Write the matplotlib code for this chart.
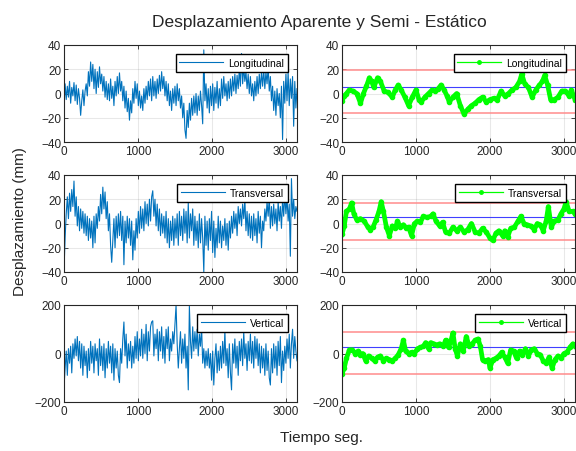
import numpy as np
import matplotlib
matplotlib.use("Agg")
import matplotlib.pyplot as plt
from matplotlib.lines import Line2D

plt.rcParams['font.family'] = ['Liberation Sans', 'DejaVu Sans']

# -----------------------------
# Raw signals (sampled every 15 s)
# -----------------------------
step_raw = 15
long_raw = [
    -12, 8, -5, 6, -3, 10, -8, 5, -2, 9,
    -6, 7, -9, 4, -4, -18, -6, 3, -10, 2,
    8, -2, 18, 6, 26, 10, 24, 4, 20, 0,
    18, 5, 22, 8, 16, 2, 14, -3, 10, -5,
    8, -6, 12, -4, 6, -10, 10, -2, 14, 0,
    17, 2, 10, -6, 6, -12, 2, -15, -4, -22,
    -6, -16, 4, -8, 10, -4, 8, -10, 2, -12,
    -2, -14, 4, -8, 6, -5, 10, -2, 12, -6,
    14, -2, 10, -4, 12, 0, 15, 2, 18, 4,
    14, -2, 10, -6, 8, -10, 2, -14, 4, -8,
    6, -10, 8, -6, 4, -12, -2, -20, -8, -30,
    -37, -14, -28, -8, -22, -4, -18, -2, -16, 0,
    -18, -2, -14, 2, -10, -25, 36, -6, 8, -12,
    4, -16, 6, -10, 8, -14, 5, -8, 10, -12,
    4, -10, 12, -4, 14, -2, 8, -6, 10, -4,
    12, -2, 14, 2, 16, 0, 15, 4, 20, 6,
    33, 8, 22, 10, 18, 4, 16, 0, 14, -2,
    8, -6, 10, -2, 14, 0, 16, 4, 18, 6,
    20, 4, 18, 8, 22, 2, 14, -6, 6, -14,
    2, -18, 4, -10, 0, -20, 6, -38, 10, -8,
    16, -6, 18, -10, 12, -4, 14, -27, 10, -12,
    4,
]
trans_raw = [
    -38, -12, 8, 22, 4, 25, 10, 28, 14, 35,
    6, 22, -2, 14, -6, 12, -4, 10, -8, 8,
    -10, 6, -14, 4, -12, 2, -20, 6, -16, 8,
    -4, 14, 2, 24, 8, 30, 12, 26, 4, 18,
    -6, 8, -18, -32, -14, 4, -20, 6, -12, 8,
    -10, 10, -14, 6, -34, 2, -16, 6, -12, 4,
    -18, 2, -30, -6, -22, 4, -12, 10, -8, 14,
    -4, 12, -6, 18, 0, 16, -2, 20, 2, 22,
    27, 6, 20, -2, 16, -6, 12, -10, 8, -8,
    6, -12, 10, -16, 4, -20, 2, -14, 6, -18,
    4, -12, 8, -18, 10, -10, 6, -14, 12, -8,
    10, -16, 17, -12, 8, -6, 12, -18, 6, -14,
    2, -20, 8, -16, 4, -12, -40, 6, -18, 2,
    -22, 4, -14, 10, -24, 2, -28, -4, -20, 6,
    -16, 2, -20, -2, -14, 4, -18, 0, -22, 2,
    -12, 6, -8, 10, -4, 8, -10, 14, 0, 12,
    -2, 16, 4, 20, -6, 10, -10, 8, -12, 6,
    -14, 8, -10, 4, -16, 10, -8, 6, -20, 2,
    -6, 12, 2, 18, 6, 22, -4, 14, -2, 16,
    0, 12, -6, 18, 2, 14, -4, 20, 6, 24,
    8, 22, 2, 16, -27, 37, 6, 20, 4, 14,
    10,
]
vert_raw = [
    -140, -60, 10, -90, 20, -40, 30, -80, 40, -20,
    60, -10, 70, -30, 50, -60, 40, -90, 30, -50,
    10, -100, 20, -70, 50, -40, 30, -80, 40, -30,
    20, -90, 60, -50, 30, -70, 40, -100, 20, -60,
    50, -40, 30, -80, 40, -110, 20, -60, 10, -90,
    -120, 20, -40, 60, 130, -10, 80, -60, 40, -30,
    50, -60, 30, -40, 70, -20, 90, -30, 60, -10,
    100, -20, 80, 0, 120, -30, 90, 10, 110, 130,
    135, -10, 80, 20, 100, -30, 90, 10, 110, -20,
    70, -40, 100, 20, 110, -30, 60, 10, 90, 40,
    120, 200, 40, -60, 20, 90, -40, 60, -20, 80,
    -60, 30, -150, 195, 50, -20, 110, 10, 90, 20,
    100, -10, 80, 30, 110, -40, 20, -60, 10, -50,
    20, -60, 0, -110, 10, -130, -20, 40, -80, 10,
    -70, 30, -60, 50, -40, 94, -50, 20, -100, 40,
    -80, -150, 40, -40, 60, -60, 30, -90, 50, -30,
    60, -50, 90, -20, 40, -70, 50, -30, 80, -40,
    50, -60, 70, -20, 60, -50, 40, -80, 30, -60,
    20, -90, 40, -70, 10, -100, -130, 20, -80, 40,
    -60, 30, -90, 50, -50, 70, -120, 10, -70, 30,
    -40, 60, -20, 80, -60, 40, 100, -20, 70, 10,
    -30,
]

# -----------------------------
# Semi-static (smoothed) signals
# -----------------------------
long_t = [0, 30, 60, 100, 150, 200, 250, 290, 330, 370, 400, 430, 480, 520, 570,
          620, 680, 720, 760, 800, 850, 900, 950, 1000, 1040, 1070, 1120, 1170,
          1220, 1260, 1300, 1340, 1380, 1420, 1450, 1500, 1550, 1600, 1650, 1700,
          1750, 1800, 1850, 1900, 1950, 2000, 2050, 2100, 2150, 2200, 2250, 2300,
          2350, 2400, 2430, 2470, 2520, 2570, 2620, 2670, 2710, 2740, 2780, 2820,
          2870, 2920, 2970, 3020, 3070, 3100, 3150]
long_semi = [-6, -2, 0, 3, 2, 0, -8, 0, 6, 13, 10, 5, 13, 10, 2,
             1, -3, 3, 7, 3, -3, -10, -3, 3, -5, -7, -3, 0,
             3, 2, 4, 7, 3, -2, -7, -3, 0, -10, -17, -13,
             -10, -8, -5, -3, -7, -5, -4, -5, 2, -2, 0, 3,
             5, 10, 16, 8, 5, -3, 3, 7, 10, 15, 7, -5,
             -5, -3, 2, 2, -2, 3, -5]

trans_t = [0, 30, 60, 100, 130, 160, 200, 250, 300, 350, 380, 420, 460, 500, 530,
           560, 600, 640, 680, 720, 750, 790, 830, 870, 900, 940, 980, 1020, 1060,
           1100, 1150, 1200, 1230, 1270, 1320, 1360, 1400, 1450, 1500, 1550, 1600,
           1650, 1700, 1750, 1800, 1850, 1900, 1950, 2000, 2040, 2080, 2120, 2170,
           2200, 2240, 2280, 2330, 2380, 2420, 2460, 2500, 2550, 2600, 2640, 2680,
           2720, 2760, 2790, 2830, 2870, 2920, 2960, 3000, 3030, 3070, 3120, 3150]
trans_semi = [-9, -2, 10, 12, 17, 8, 3, 4, 2, -3, -5, -3, 3, 10, 18,
              10, -3, -10, -2, -4, 2, -3, -1, -4, -3, -10, 0, 2, 1,
              6, 5, 6, 8, 2, -2, 1, -7, -8, -3, -6, -3,
              -7, -5, 0, -7, -8, -4, -7, -12, -14, -8, -6, -10,
              -6, -11, -4, -3, 2, 6, 0, -1, -2, -5, 0, -1,
              -6, 2, 14, -3, 2, 3, 8, 12, 18, 10, 10, 8]

vert_t = [0, 30, 60, 100, 140, 180, 220, 250, 280, 320, 360, 400, 440, 480, 520,
          560, 600, 640, 680, 720, 760, 800, 830, 860, 900, 940, 980, 1020, 1060,
          1100, 1130, 1170, 1200, 1240, 1280, 1320, 1370, 1400, 1440, 1470, 1500,
          1530, 1560, 1600, 1640, 1680, 1720, 1760, 1800, 1840, 1870, 1900, 1940,
          1980, 2000, 2040, 2080, 2120, 2160, 2200, 2240, 2280, 2320, 2360, 2400,
          2440, 2480, 2520, 2560, 2600, 2640, 2680, 2720, 2760, 2800, 2840, 2880,
          2920, 2960, 3000, 3040, 3080, 3120, 3150]
vert_semi = [-85, -60, -20, 15, 15, 0, 10, -5, 0, -30, -10, -20, -30, -15, -10,
             -30, -20, -25, -30, -20, -5, 20, 55, 10, 0, 5, 0, 20, 25,
             30, 45, 20, 45, 40, 35, 40, 30, 55, 25, 50, 85,
             20, -10, 40, 10, 70, 30, 40, 55, 60, 30, -25, -30,
             -25, -60, -25, -20, -10, 5, -15, -40, 15, 10, -20, 10,
             -5, 20, -10, 15, 20, 0, -5, -30, -40, -15, -60, -25,
             -10, -20, 0, 5, 25, 40, 30]

# limits: upper / lower band and mean
long_lims = (19, -16, 5)
trans_lims = (17, -14, 5)
vert_lims = (88, -83, 28)

names = ["Longitudinal", "Transversal", "Vertical"]
ylims = [(-40, 40), (-40, 40), (-200, 200)]
yticks = [[-40, -20, 0, 20, 40], [-40, -20, 0, 20, 40], [-200, 0, 200]]

raw = [long_raw, trans_raw, vert_raw]
semi = [(long_t, long_semi), (trans_t, trans_semi), (vert_t, vert_semi)]
lims = [long_lims, trans_lims, vert_lims]

# -----------------------------
# Figure
# -----------------------------
W, H = 576, 452
fig = plt.figure(figsize=(W / 100, H / 100), dpi=100)

blue = (0, 0.447, 0.741)
axcol = (0.15, 0.15, 0.15)
row_tops = [46, 176, 306]
ax_h = 97
ax_w = 233


def style(ax, i):
    ax.set_xlim(0, 3150)
    ax.set_ylim(*ylims[i])
    ax.set_xticks([0, 1000, 2000, 3000])
    ax.set_yticks(yticks[i])
    ax.grid(True, color=(0.15, 0.15, 0.15), alpha=0.1, lw=0.8)
    ax.set_axisbelow(True)
    ax.tick_params(direction='in', length=3, width=0.6, labelsize=8.5,
                   colors=axcol, top=True, right=True, pad=2)
    for s in ax.spines.values():
        s.set_color(axcol)
        s.set_linewidth(0.8)


for i in range(3):
    y0 = 1 - (row_tops[i] + ax_h) / H
    # raw signal
    axl = fig.add_axes([64 / W, y0, ax_w / W, ax_h / H])
    tr = np.arange(len(raw[i])) * step_raw
    axl.plot(tr, raw[i], color=blue, lw=0.8)
    style(axl, i)
    axl.legend([Line2D([], [], color=blue, lw=0.8)], [names[i]],
               loc='upper right', bbox_to_anchor=(1, 1), borderaxespad=0.9,
               fontsize=7.5, fancybox=False, edgecolor='black', framealpha=1,
               handlelength=4.2, borderpad=0.35, handletextpad=0.5)

    # semi-static signal
    axr = fig.add_axes([342 / W, y0, ax_w / W, ax_h / H])
    hi, lo, mean = lims[i]
    axr.axhline(hi, color=(1, 0.55, 0.55), lw=1.1)
    axr.axhline(lo, color=(1, 0.55, 0.55), lw=1.1)
    axr.axhline(mean, color=(0.25, 0.25, 1), lw=0.8)
    t, v = semi[i]
    axr.plot(t, v, color=(0, 1, 0), lw=3.4, marker='.', ms=6)
    style(axr, i)
    axr.legend([Line2D([], [], color=(0, 1, 0), lw=0.9, marker='.', ms=5)], [names[i]],
               loc='upper right', bbox_to_anchor=(1, 1), borderaxespad=0.9,
               fontsize=7.5, fancybox=False, edgecolor='black', framealpha=1,
               handlelength=4.2, borderpad=0.35, handletextpad=0.5)

fig.text(319 / W, 1 - 22 / H, "Desplazamiento Aparente y Semi - Estático",
         ha='center', va='center', fontsize=12.5, color=axcol)
fig.text(20 / W, 1 - 222 / H, "Desplazamiento (mm)", rotation=90,
         ha='center', va='center', fontsize=11, color=axcol)
fig.text(321 / W, 1 - 438 / H, "Tiempo seg.", ha='center', va='center',
         fontsize=11, color=axcol)

fig.savefig("out.png", dpi=100)
